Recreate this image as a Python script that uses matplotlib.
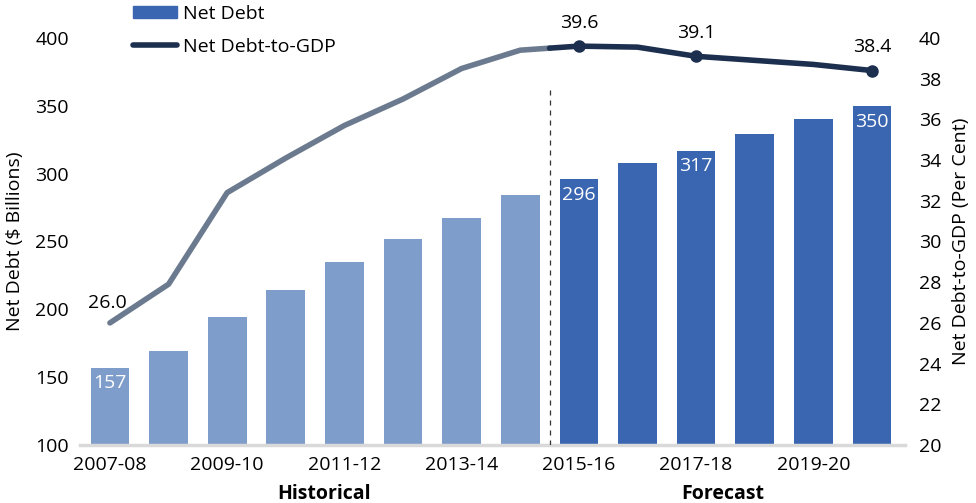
import matplotlib.pyplot as plt
import numpy as np
from matplotlib.patches import Patch
from matplotlib.lines import Line2D

plt.rcParams['font.family'] = ['Open Sans', 'DejaVu Sans']

years = ['2007-08', '2008-09', '2009-10', '2010-11', '2011-12', '2012-13', '2013-14',
         '2014-15', '2015-16', '2016-17', '2017-18', '2018-19', '2019-20', '2020-21']
net_debt = [157, 169, 194, 214, 235, 252, 267, 284, 296, 308, 317, 329, 340, 350]
debt_to_gdp = [26.0, 27.9, 32.4, 34.1, 35.7, 37.0, 38.5, 39.4, 39.6, 39.55, 39.1, 38.9, 38.7, 38.4]
n_hist = 8  # 2007-08 .. 2014-15 are actuals

bar_labels = {0: 157, 8: 296, 10: 317, 13: 350}
line_labels = {0: 26.0, 8: 39.6, 10: 39.1, 13: 38.4}

c_hist_bar = '#7f9dcb'
c_fc_bar = '#3a65b0'
c_hist_line = '#6b7a8e'
c_fc_line = '#1c2f4f'

fig = plt.figure(figsize=(9.76, 5.03), dpi=100)
ax = fig.add_axes([0.082, 0.1153, 0.845, 0.8092])
ax2 = ax.twinx()

x = np.arange(len(years))
colors = [c_hist_bar if i < n_hist else c_fc_bar for i in x]
ax.bar(x, net_debt, width=0.66, color=colors, zorder=2)
ax.set_ylim(100, 400)
ax.set_xlim(-0.51, 13.56)
ax.set_yticks(range(100, 401, 50))
ax.set_xticks(x[::2])
ax.set_xticklabels(years[::2])

for i, v in bar_labels.items():
    ax.text(i, v - 5, str(v), ha='center', va='top', color='white', fontsize=14)

# dashed divider between actuals and forecast
split = n_hist - 0.5
ax.plot([split, split], [100, 363], ls=(0, (4, 4)), color='#333333', lw=0.9, zorder=3)

# line: historical part grey, forecast part navy, joined at the divider
mid = debt_to_gdp[n_hist - 1] + (debt_to_gdp[n_hist] - debt_to_gdp[n_hist - 1]) * 0.5
xh = list(x[:n_hist]) + [split]
yh = debt_to_gdp[:n_hist] + [mid]
xf = [split] + list(x[n_hist:])
yf = [mid] + debt_to_gdp[n_hist:]
ax2.plot(xh, yh, color=c_hist_line, lw=4, solid_capstyle='round', zorder=4)
ax2.plot(xf, yf, color=c_fc_line, lw=4, solid_capstyle='round', zorder=4)
mk = [i for i in line_labels if i >= n_hist]
ax2.plot(mk, [debt_to_gdp[i] for i in mk], 'o', color=c_fc_line, ms=8, zorder=5)
for i, v in line_labels.items():
    off = 0.7 if i > 0 else 0.55
    ax2.text(i - (0.05 if i == 0 else 0), v + off, f'{v:.1f}', ha='center', va='bottom',
             fontsize=14, color='black')
ax2.set_ylim(20, 40)
ax2.set_yticks(range(20, 41, 2))

for a in (ax, ax2):
    for s in a.spines.values():
        s.set_visible(False)
    a.tick_params(length=0, labelsize=14)
ax.spines['bottom'].set_visible(True)
ax.spines['bottom'].set_color('#d9d9d9')
ax.spines['bottom'].set_linewidth(2.5)
ax.tick_params(axis='x', pad=8)
ax.tick_params(axis='y', pad=8)
ax2.tick_params(axis='y', pad=10)

ax.set_ylabel('Net Debt ($ Billions)', fontsize=14, labelpad=8)
ax2.set_ylabel('Net Debt-to-GDP (Per Cent)', fontsize=14, labelpad=8)

# period captions under the tick labels
xt = ax.get_xaxis_transform()
ax.text(3.65, -0.095, 'Historical', transform=xt, ha='center', va='top',
        fontsize=14, fontweight='bold')
ax.text(10.45, -0.095, 'Forecast', transform=xt, ha='center', va='top',
        fontsize=14, fontweight='bold')

handles = [Patch(color=c_fc_bar), Line2D([0], [0], color=c_fc_line, lw=4, solid_capstyle='round')]
fig.legend(handles, ['Net Debt', 'Net Debt-to-GDP'], loc='upper left',
           bbox_to_anchor=(0.118, 1.025), frameon=False, fontsize=14,
           handlelength=2.3, handletextpad=0.3, labelspacing=0.75, handleheight=0.5)

fig.savefig('out.png', dpi=100)
